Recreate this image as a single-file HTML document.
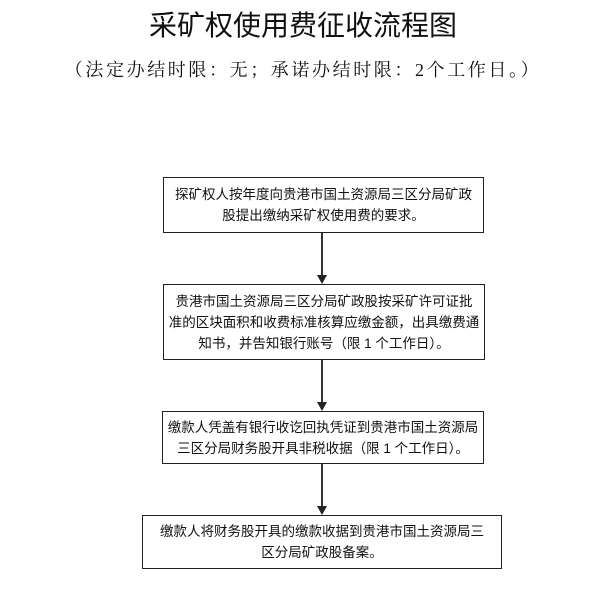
<!DOCTYPE html>
<html><head><meta charset="utf-8"><style>
html,body{margin:0;padding:0;background:#fff;}
body{width:606px;height:597px;position:relative;overflow:hidden;font-family:"Liberation Sans","Noto Sans CJK SC",sans-serif;color:#111;}
.t{position:absolute;left:0;width:606px;text-align:center;white-space:nowrap;}
.b{position:absolute;border:1.5px solid #222;box-sizing:border-box;text-align:center;font-size:13.5px;line-height:21px;display:flex;align-items:center;justify-content:center;}
.l{position:absolute;left:321px;width:1.5px;background:#333;}
.a{position:absolute;left:317px;width:0;height:0;border-left:5px solid transparent;border-right:5px solid transparent;border-top:9px solid #222;}
</style></head><body>
<div class="t" style="top:4px;font-size:28px;font-family:'Liberation Sans','Noto Sans CJK SC',sans-serif;">采矿权使用费征收流程图</div>
<div class="t" style="top:56px;font-size:18px;font-family:'Liberation Serif','Noto Serif CJK SC',serif;letter-spacing:2.6px;">（法定办结时限：无；承诺办结时限：2个工作日。）</div>

<div class="b" style="left:163px;top:177px;width:321px;height:56px;"><div>探矿权人按年度向贵港市国土资源局三区分局矿政<br>股提出缴纳采矿权使用费的要求。</div></div>
<div class="l" style="top:233px;height:43px;"></div><div class="a" style="top:275px;"></div>

<div class="b" style="left:163px;top:284px;width:322px;height:76px;"><div>贵港市国土资源局三区分局矿政股按采矿许可证批<br>准的区块面积和收费标准核算应缴金额，出具缴费通<br>知书，并告知银行账号（限 1 个工作日）。</div></div>
<div class="l" style="top:360px;height:43px;"></div><div class="a" style="top:402px;"></div>

<div class="b" style="left:162px;top:411px;width:322px;height:53px;"><div>缴款人凭盖有银行收讫回执凭证到贵港市国土资源局<br>三区分局财务股开具非税收据（限 1 个工作日）。</div></div>
<div class="l" style="top:464px;height:43px;"></div><div class="a" style="top:506px;"></div>

<div class="b" style="left:142px;top:515px;width:360px;height:54px;"><div>缴款人将财务股开具的缴款收据到贵港市国土资源局三<br>区分局矿政股备案。</div></div>
</body></html>
